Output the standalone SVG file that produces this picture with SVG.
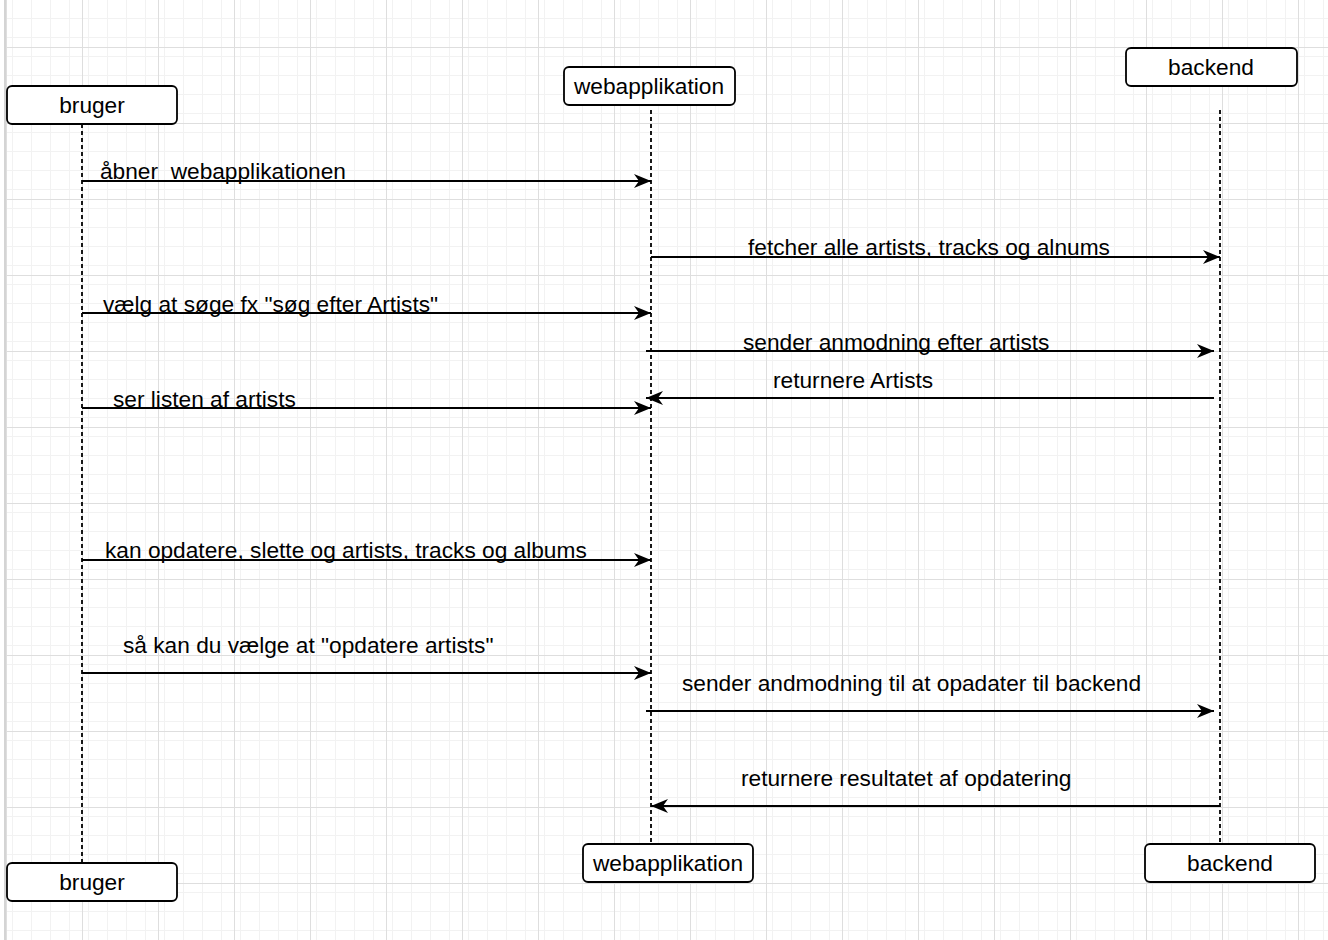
<svg xmlns="http://www.w3.org/2000/svg" width="1328" height="940" viewBox="0 0 1328 940">
<style>
.box{fill:#fff;stroke:#000;stroke-width:1.8}
.nt{font-family:"Liberation Sans",Arial,sans-serif;font-size:22.7px;fill:#000;text-anchor:middle}
.lbl{font-family:"Liberation Sans",Arial,sans-serif;font-size:22.7px;fill:#000;white-space:pre}
.life{stroke:#000;stroke-width:1.8;stroke-dasharray:4 3;fill:none}
.msg{stroke:#000;stroke-width:2;fill:none;marker-end:url(#ah)}
</style>
<defs>
<pattern id="minor" patternUnits="userSpaceOnUse" x="6" y="9" width="19" height="19">
<path d="M0 0.5 H19 M0.5 0 V19" stroke="#f2f2f2" stroke-width="1" fill="none"/>
</pattern>
<pattern id="major" patternUnits="userSpaceOnUse" x="6" y="47" width="76" height="76">
<rect width="76" height="76" fill="url(#minor)"/>
<path d="M0 0.5 H76 M0.5 0 V76" stroke="#dedede" stroke-width="1" fill="none"/>
</pattern>
<marker id="ah" markerUnits="userSpaceOnUse" markerWidth="18" markerHeight="16" refX="17" refY="7" orient="auto">
<path d="M0,0 L17,7 L0,14 L5,7 Z" fill="#000"/>
</marker>
</defs>
<rect width="1328" height="940" fill="#fff"/>
<rect x="6" y="0" width="1322" height="940" fill="url(#major)"/>
<line x1="5" y1="0" x2="5" y2="940" stroke="#d4d4d4" stroke-width="2"/>

<g id="lifelines">
<line class="life" x1="82" y1="124" x2="82" y2="863"/>
<line class="life" x1="651" y1="110" x2="651" y2="844"/>
<line class="life" x1="1220" y1="110" x2="1220" y2="844"/>
</g>

<g id="connectors">
<line class="msg" x1="82" y1="181" x2="651" y2="181"/>
<line class="msg" x1="651" y1="257" x2="1220" y2="257"/>
<line class="msg" x1="82" y1="313" x2="651" y2="313"/>
<line class="msg" x1="646" y1="351" x2="1214" y2="351"/>
<line class="msg" x1="1214" y1="398" x2="646" y2="398"/>
<line class="msg" x1="82" y1="408" x2="651" y2="408"/>
<line class="msg" x1="82" y1="560" x2="651" y2="560"/>
<line class="msg" x1="82" y1="673" x2="651" y2="673"/>
<line class="msg" x1="646" y1="711" x2="1214" y2="711"/>
<line class="msg" x1="1220" y1="806" x2="651" y2="806"/>
<text class="lbl" x="100" y="179" xml:space="preserve">åbner  webapplikationen</text>
<text class="lbl" x="748" y="255">fetcher alle artists, tracks og alnums</text>
<text class="lbl" x="103" y="312">vælg at søge fx "søg efter Artists"</text>
<text class="lbl" x="743" y="350">sender anmodning efter artists</text>
<text class="lbl" x="773" y="388">returnere Artists</text>
<text class="lbl" x="113" y="407">ser listen af artists</text>
<text class="lbl" x="105" y="558">kan opdatere, slette og artists, tracks og albums</text>
<text class="lbl" x="123" y="653">så kan du vælge at "opdatere artists"</text>
<text class="lbl" x="682" y="691">sender andmodning til at opadater til backend</text>
<text class="lbl" x="741" y="786">returnere resultatet af opdatering</text>
</g>

<g id="bruger-top"><rect class="box" x="7" y="86" width="170" height="38" rx="5"/><text class="nt" x="92" y="113">bruger</text></g>
<g id="web-top"><rect class="box" x="564" y="67" width="171" height="38" rx="5"/><text class="nt" x="649" y="94">webapplikation</text></g>
<g id="backend-top"><rect class="box" x="1126" y="48" width="171" height="38" rx="5"/><text class="nt" x="1211" y="75">backend</text></g>
<g id="bruger-bottom"><rect class="box" x="7" y="863" width="170" height="38" rx="5"/><text class="nt" x="92" y="890">bruger</text></g>
<g id="web-bottom"><rect class="box" x="583" y="844" width="170" height="38" rx="5"/><text class="nt" x="668" y="871">webapplikation</text></g>
<g id="backend-bottom"><rect class="box" x="1145" y="844" width="170" height="38" rx="5"/><text class="nt" x="1230" y="871">backend</text></g>
</svg>
